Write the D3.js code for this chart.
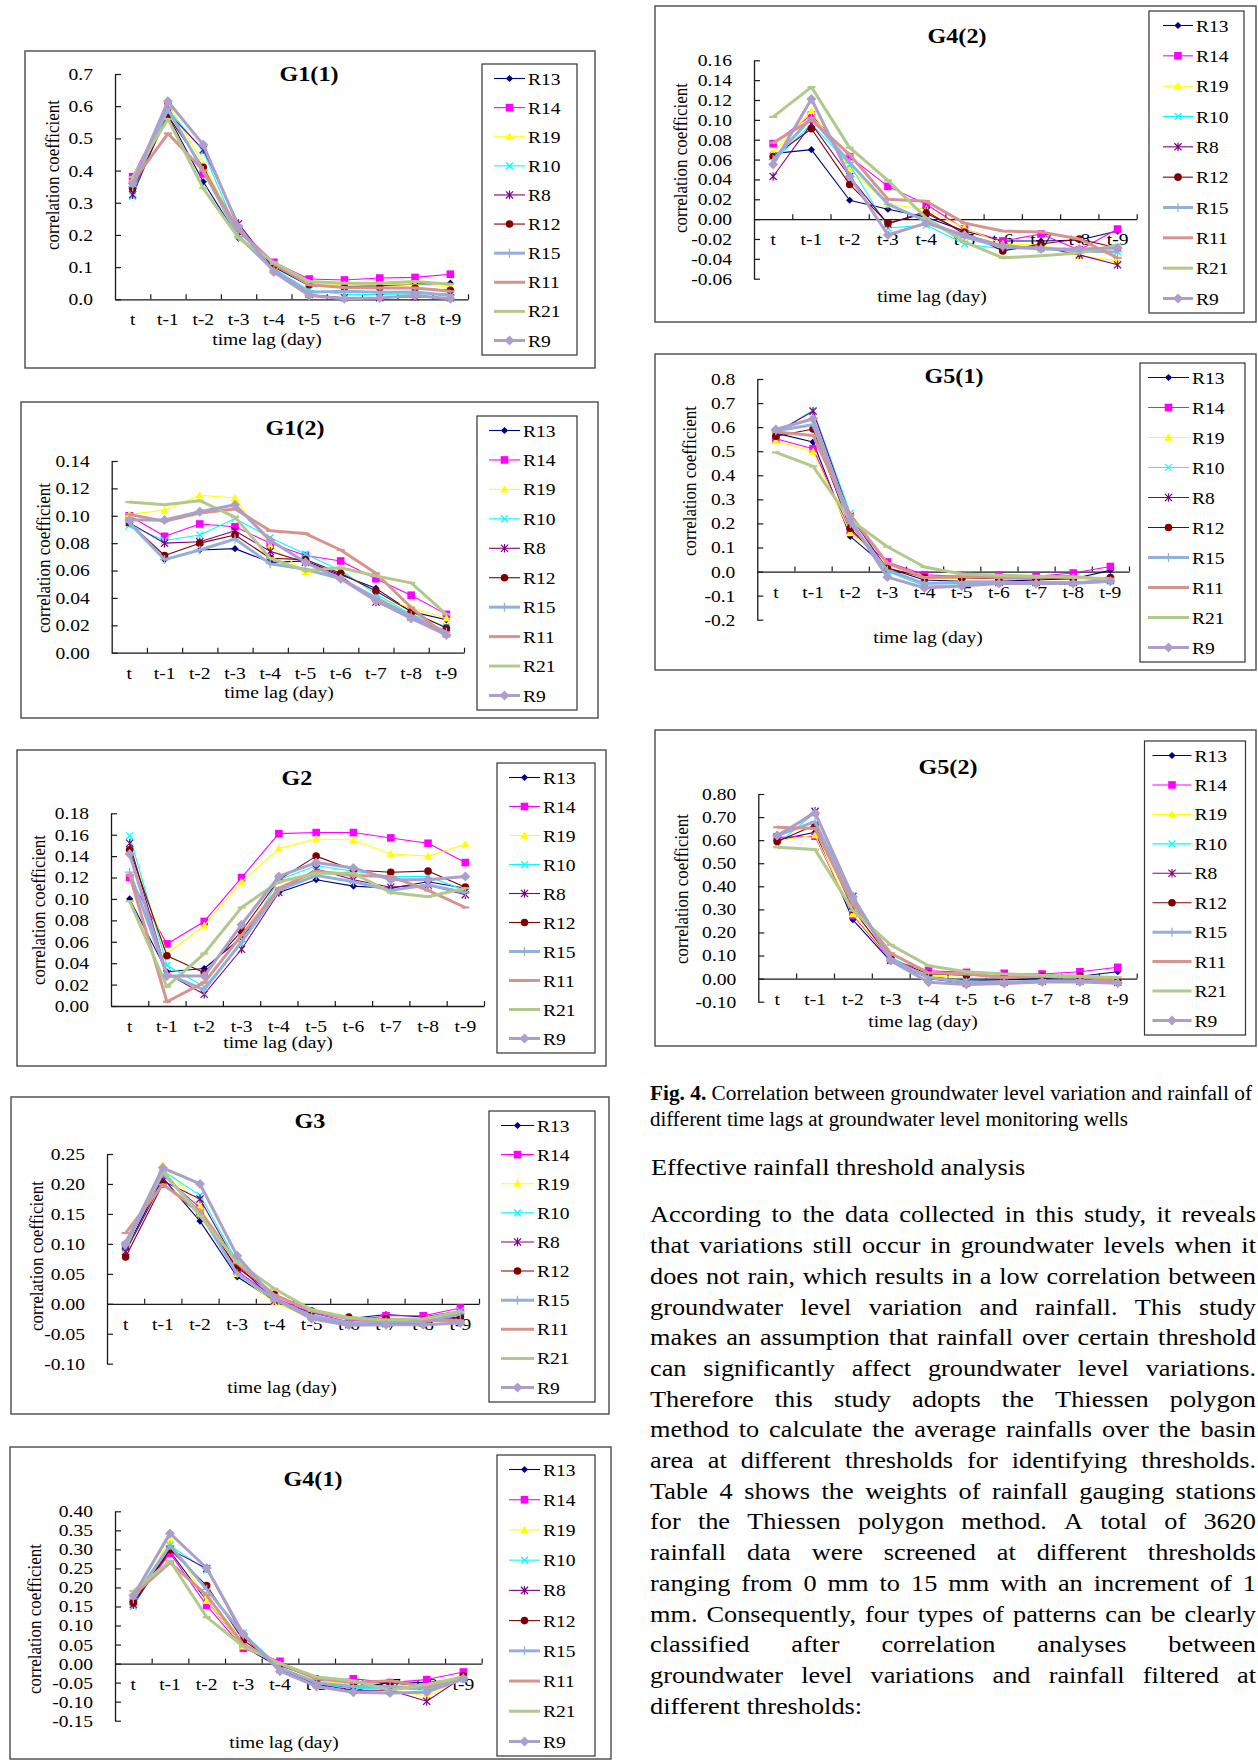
<!DOCTYPE html>
<html>
<head>
<meta charset="utf-8">
<script src="https://cdn.jsdelivr.net/npm/d3@7"></script>
<style>
  html, body { margin: 0; padding: 0; background: #fff; }
  svg { display: block; font-family: "Liberation Serif", "Times New Roman", serif; }
</style>
</head>
<body>
<svg id="fig" width="1258" height="1760"></svg>
<script>
// ---- data -------------------------------------------------------------
const categories = ["t", "t-1", "t-2", "t-3", "t-4", "t-5", "t-6", "t-7", "t-8", "t-9"];
const stations = ["R13", "R14", "R19", "R10", "R8", "R12", "R15", "R11", "R21", "R9"];

// correlation coefficient per rain gauge (rows follow `stations`), columns follow `categories`
const G1_1 = [
  [0.340, 0.570, 0.365, 0.190, 0.100, 0.042, 0.040, 0.042, 0.047, 0.050],
  [0.381, 0.600, 0.390, 0.220, 0.115, 0.063, 0.060, 0.066, 0.068, 0.078],
  [0.370, 0.610, 0.420, 0.210, 0.105, 0.050, 0.045, 0.045, 0.045, 0.040],
  [0.320, 0.590, 0.460, 0.200, 0.095, 0.028, 0.015, 0.015, 0.017, 0.018],
  [0.325, 0.580, 0.465, 0.235, 0.095, 0.015, 0.005, 0.005, 0.008, 0.005],
  [0.345, 0.570, 0.410, 0.210, 0.105, 0.045, 0.037, 0.037, 0.035, 0.028],
  [0.350, 0.590, 0.400, 0.195, 0.090, 0.022, 0.025, 0.022, 0.023, 0.012],
  [0.365, 0.515, 0.400, 0.215, 0.110, 0.045, 0.037, 0.035, 0.035, 0.025],
  [0.380, 0.560, 0.345, 0.190, 0.115, 0.055, 0.050, 0.050, 0.055, 0.047],
  [0.360, 0.615, 0.480, 0.225, 0.085, 0.012, 0.002, 0.004, 0.012, 0.002]
];
const G1_2 = [
  [0.094, 0.068, 0.075, 0.076, 0.066, 0.067, 0.057, 0.047, 0.030, 0.024],
  [0.100, 0.085, 0.094, 0.092, 0.080, 0.071, 0.067, 0.054, 0.042, 0.028],
  [0.101, 0.104, 0.115, 0.113, 0.078, 0.059, 0.055, 0.040, 0.033, 0.025],
  [0.093, 0.082, 0.086, 0.098, 0.084, 0.072, 0.060, 0.043, 0.028, 0.019],
  [0.095, 0.080, 0.081, 0.089, 0.074, 0.066, 0.056, 0.037, 0.026, 0.014],
  [0.095, 0.071, 0.080, 0.086, 0.069, 0.068, 0.058, 0.045, 0.030, 0.018],
  [0.095, 0.068, 0.075, 0.083, 0.065, 0.061, 0.054, 0.040, 0.027, 0.015],
  [0.101, 0.096, 0.102, 0.105, 0.089, 0.087, 0.075, 0.058, 0.033, 0.012],
  [0.110, 0.108, 0.111, 0.099, 0.069, 0.060, 0.062, 0.056, 0.051, 0.028],
  [0.097, 0.097, 0.103, 0.108, 0.082, 0.066, 0.054, 0.038, 0.025, 0.013]
];
const G2 = [
  [0.100, 0.032, 0.035, 0.064, 0.106, 0.118, 0.112, 0.110, 0.116, 0.110],
  [0.120, 0.058, 0.079, 0.120, 0.161, 0.162, 0.162, 0.157, 0.152, 0.134],
  [0.148, 0.049, 0.075, 0.116, 0.147, 0.156, 0.155, 0.142, 0.140, 0.151],
  [0.159, 0.038, 0.018, 0.058, 0.118, 0.131, 0.126, 0.121, 0.121, 0.108],
  [0.152, 0.030, 0.011, 0.053, 0.106, 0.128, 0.118, 0.111, 0.113, 0.104],
  [0.146, 0.047, 0.031, 0.070, 0.118, 0.140, 0.127, 0.125, 0.126, 0.111],
  [0.125, 0.030, 0.015, 0.060, 0.108, 0.122, 0.116, 0.108, 0.113, 0.106],
  [0.122, 0.004, 0.022, 0.066, 0.110, 0.126, 0.122, 0.121, 0.108, 0.092],
  [0.098, 0.018, 0.049, 0.092, 0.116, 0.124, 0.124, 0.106, 0.102, 0.110],
  [0.142, 0.028, 0.028, 0.076, 0.121, 0.134, 0.129, 0.118, 0.118, 0.121]
];
const G3 = [
  [0.090, 0.210, 0.138, 0.045, 0.005, -0.015, -0.025, -0.018, -0.022, -0.012],
  [0.095, 0.215, 0.160, 0.055, 0.010, -0.015, -0.030, -0.020, -0.020, -0.007],
  [0.088, 0.232, 0.163, 0.050, 0.002, -0.025, -0.030, -0.030, -0.030, -0.020],
  [0.092, 0.222, 0.181, 0.070, 0.008, -0.022, -0.033, -0.033, -0.032, -0.012],
  [0.087, 0.205, 0.175, 0.065, 0.005, -0.020, -0.035, -0.033, -0.032, -0.023],
  [0.078, 0.200, 0.150, 0.060, 0.016, -0.012, -0.022, -0.025, -0.027, -0.022],
  [0.098, 0.218, 0.152, 0.050, 0.008, -0.020, -0.032, -0.030, -0.030, -0.017],
  [0.118, 0.199, 0.155, 0.068, 0.015, -0.012, -0.025, -0.028, -0.028, -0.028],
  [0.103, 0.222, 0.147, 0.070, 0.025, -0.010, -0.023, -0.027, -0.025, -0.013],
  [0.100, 0.227, 0.200, 0.080, 0.008, -0.025, -0.036, -0.035, -0.035, -0.032]
];
const G4_1 = [
  [0.158, 0.295, 0.165, 0.045, -0.010, -0.050, -0.065, -0.050, -0.050, -0.040],
  [0.160, 0.290, 0.153, 0.040, 0.006, -0.045, -0.040, -0.050, -0.042, -0.022],
  [0.160, 0.325, 0.165, 0.045, -0.002, -0.045, -0.055, -0.070, -0.085, -0.040],
  [0.150, 0.310, 0.245, 0.080, -0.010, -0.055, -0.065, -0.065, -0.070, -0.040],
  [0.155, 0.300, 0.250, 0.070, -0.015, -0.055, -0.070, -0.070, -0.099, -0.035],
  [0.160, 0.300, 0.205, 0.061, -0.005, -0.040, -0.050, -0.050, -0.060, -0.032],
  [0.170, 0.310, 0.195, 0.075, -0.012, -0.050, -0.060, -0.060, -0.065, -0.038],
  [0.180, 0.265, 0.180, 0.050, 0.000, -0.040, -0.050, -0.045, -0.060, -0.035],
  [0.190, 0.270, 0.122, 0.045, 0.000, -0.035, -0.045, -0.070, -0.055, -0.035],
  [0.178, 0.342, 0.251, 0.078, -0.020, -0.060, -0.075, -0.077, -0.075, -0.040]
];
const G4_2 = [
  [0.066, 0.070, 0.019, 0.010, 0.002, -0.012, -0.022, -0.022, -0.021, -0.012],
  [0.076, 0.105, 0.063, 0.033, 0.015, -0.010, -0.022, -0.015, -0.031, -0.010],
  [0.067, 0.109, 0.051, 0.015, 0.010, -0.009, -0.025, -0.026, -0.037, -0.042],
  [0.058, 0.096, 0.055, -0.009, -0.006, -0.025, -0.030, -0.030, -0.032, -0.033],
  [0.043, 0.096, 0.043, -0.005, 0.008, -0.015, -0.027, -0.028, -0.036, -0.046],
  [0.063, 0.091, 0.035, -0.004, 0.006, -0.013, -0.032, -0.025, -0.020, -0.029],
  [0.060, 0.102, 0.057, 0.015, -0.002, -0.018, -0.028, -0.029, -0.032, -0.033],
  [0.077, 0.100, 0.065, 0.020, 0.018, -0.004, -0.012, -0.013, -0.020, -0.039],
  [0.103, 0.133, 0.072, 0.039, 0.001, -0.023, -0.039, -0.037, -0.034, -0.026],
  [0.055, 0.121, 0.043, -0.016, -0.004, -0.016, -0.027, -0.030, -0.030, -0.029]
];
const G5_1 = [
  [0.575, 0.538, 0.146, 0.015, -0.035, -0.040, -0.040, -0.035, -0.030, 0.005],
  [0.552, 0.510, 0.170, 0.040, -0.013, -0.020, -0.015, -0.020, -0.006, 0.021],
  [0.542, 0.498, 0.160, 0.030, -0.030, -0.030, -0.030, -0.030, -0.025, -0.025],
  [0.575, 0.670, 0.243, 0.000, -0.060, -0.055, -0.045, -0.045, -0.045, -0.040],
  [0.578, 0.666, 0.230, 0.010, -0.050, -0.045, -0.045, -0.045, -0.045, -0.035],
  [0.562, 0.592, 0.180, 0.015, -0.025, -0.025, -0.030, -0.030, -0.030, -0.025],
  [0.585, 0.610, 0.200, 0.005, -0.050, -0.045, -0.045, -0.045, -0.045, -0.040],
  [0.580, 0.565, 0.235, 0.035, -0.025, -0.020, -0.025, -0.025, -0.020, -0.035],
  [0.495, 0.437, 0.215, 0.103, 0.019, -0.010, -0.015, -0.020, -0.025, -0.030],
  [0.590, 0.635, 0.215, -0.023, -0.068, -0.060, -0.050, -0.050, -0.050, -0.040]
];
const G5_2 = [
  [0.600, 0.634, 0.255, 0.075, 0.010, -0.010, -0.005, 0.000, 0.010, 0.030],
  [0.612, 0.617, 0.275, 0.080, 0.034, 0.027, 0.023, 0.020, 0.030, 0.049],
  [0.597, 0.622, 0.280, 0.085, 0.010, 0.005, 0.005, 0.005, 0.005, -0.005],
  [0.583, 0.720, 0.360, 0.095, 0.005, -0.010, -0.015, -0.010, -0.010, -0.015],
  [0.615, 0.725, 0.355, 0.080, 0.000, -0.020, -0.015, -0.010, -0.010, -0.015],
  [0.594, 0.666, 0.300, 0.085, 0.020, 0.015, 0.010, 0.010, 0.010, -0.010],
  [0.620, 0.680, 0.340, 0.085, 0.005, -0.015, -0.015, -0.010, -0.010, -0.015],
  [0.656, 0.650, 0.320, 0.110, 0.025, 0.020, 0.005, 0.010, 0.010, -0.015],
  [0.569, 0.559, 0.295, 0.146, 0.056, 0.030, 0.020, 0.015, 0.010, 0.005],
  [0.620, 0.718, 0.355, 0.078, -0.016, -0.025, -0.021, -0.015, -0.015, -0.020]
];

// y-axis tick values of each panel
const ticksG1_1 = [0, 0.1, 0.2, 0.3, 0.4, 0.5, 0.6, 0.7];
const ticksG1_2 = [0, 0.02, 0.04, 0.06, 0.08, 0.10, 0.12, 0.14];
const ticksG2   = [0, 0.02, 0.04, 0.06, 0.08, 0.10, 0.12, 0.14, 0.16, 0.18];
const ticksG3   = [-0.10, -0.05, 0, 0.05, 0.10, 0.15, 0.20, 0.25];
const ticksG4_1 = [-0.15, -0.10, -0.05, 0, 0.05, 0.10, 0.15, 0.20, 0.25, 0.30, 0.35, 0.40];
const ticksG4_2 = [-0.06, -0.04, -0.02, 0, 0.02, 0.04, 0.06, 0.08, 0.10, 0.12, 0.14, 0.16];
const ticksG5_1 = [-0.2, -0.1, 0, 0.1, 0.2, 0.3, 0.4, 0.5, 0.6, 0.7, 0.8];
const ticksG5_2 = [-0.10, 0, 0.10, 0.20, 0.30, 0.40, 0.50, 0.60, 0.70, 0.80];

// ---- series appearance ----------------------------------------------
const styles = [
  { color: "#000080", w: 1.1, marker: "diamond", size: 3.6 },
  { color: "#FF00FF", w: 1.1, marker: "square",  size: 3.8 },
  { color: "#FFFF00", w: 1.1, marker: "triangle", size: 4.2 },
  { color: "#00FFFF", w: 1.1, marker: "x",       size: 3.4 },
  { color: "#800080", w: 1.1, marker: "star",    size: 3.6 },
  { color: "#800000", w: 1.1, marker: "circle",  size: 3.8 },
  { color: "#93B0DA", w: 3.0, marker: "plus",    size: 4.5 },
  { color: "#D6948F", w: 3.0, marker: "dash",    size: 4.0 },
  { color: "#B2C98C", w: 3.0, marker: "dash",    size: 4.0 },
  { color: "#AC9FCA", w: 3.0, marker: "diamond", size: 5.0 }
];

// ---- panel layout -------------------------------------------------------
const panels = [
  { title: "G1(1)", data: G1_1, ticks: ticksG1_1, fmt: ".1f",
    box: { x: 25, y: 51, w: 570, h: 317 }, plot: { x0: 115, x1: 468, y0: 299.3, y1: 74 },
    t: [309, 81], xt: [267, 345], yt: [59, 175], lg: { x: 482, y: 64, w: 95, h: 291, ls: 12, lt: 46 } },
  { title: "G1(2)", data: G1_2, ticks: ticksG1_2, fmt: ".2f",
    box: { x: 21, y: 402, w: 577, h: 316 }, plot: { x0: 111.7, x1: 464, y0: 652.7, y1: 461 },
    t: [295, 435], xt: [279, 698], yt: [50, 558], lg: { x: 477, y: 416, w: 100, h: 294, ls: 12, lt: 46 } },
  { title: "G2", data: G2, ticks: ticksG2, fmt: ".2f",
    box: { x: 17, y: 750, w: 589, h: 316 }, plot: { x0: 111, x1: 484, y0: 1006, y1: 813.3 },
    t: [297, 785], xt: [278, 1048], yt: [45, 910], lg: { x: 497, y: 763, w: 98, h: 290, ls: 12, lt: 46 } },
  { title: "G3", data: G3, ticks: ticksG3, fmt: ".2f",
    box: { x: 11, y: 1097, w: 598, h: 317 }, plot: { x0: 107, x1: 479, y0: 1363.7, y1: 1154 },
    t: [310, 1128], xt: [282, 1393], yt: [43, 1256], lg: { x: 489, y: 1111, w: 106, h: 291, ls: 12, lt: 48 } },
  { title: "G4(1)", data: G4_1, ticks: ticksG4_1, fmt: ".2f",
    box: { x: 10, y: 1447, w: 601, h: 312 }, plot: { x0: 115, x1: 481.7, y0: 1720.7, y1: 1511.3 },
    t: [313, 1486], xt: [284, 1748], yt: [41, 1619], lg: { x: 497, y: 1455, w: 98, h: 301, ls: 12, lt: 46 } },
  { title: "G4(2)", data: G4_2, ticks: ticksG4_2, fmt: ".2f",
    box: { x: 655, y: 6, w: 601, h: 316 }, plot: { x0: 754, x1: 1136.7, y0: 278.7, y1: 60.3 },
    t: [957, 43], xt: [932, 302], yt: [687, 158], lg: { x: 1149, y: 11, w: 95, h: 302, ls: 14, lt: 47 } },
  { title: "G5(1)", data: G5_1, ticks: ticksG5_1, fmt: ".1f",
    box: { x: 655, y: 354, w: 601, h: 316 }, plot: { x0: 757.3, x1: 1129, y0: 619.7, y1: 379 },
    t: [954, 383], xt: [928, 643], yt: [696, 481], lg: { x: 1140, y: 363, w: 105, h: 299, ls: 8, lt: 52 } },
  { title: "G5(2)", data: G5_2, ticks: ticksG5_2, fmt: ".2f",
    box: { x: 655, y: 730, w: 601, h: 316 }, plot: { x0: 758.3, x1: 1136.7, y0: 1001.7, y1: 794 },
    t: [948, 774], xt: [923, 1027], yt: [688, 889], lg: { x: 1144.5, y: 741, w: 101, h: 294, ls: 8, lt: 50 } }
];

// ---- drawing --------------------------------------------------------------
const SX = 1.15;               // horizontal stretch of the chart lettering
const locale = d3.formatLocale({ decimal: ".", thousands: ",", grouping: [3], currency: ["", ""], minus: "-" });
const svg = d3.select("#fig");
svg.append("rect").attr("width", 1258).attr("height", 1760).attr("fill", "#fff");

function marker(g, st, cx, cy, k = 1) {
  const s = st.size * k;
  const c = st.color;
  switch (st.marker) {
    case "diamond":
      g.append("path").attr("d", `M${cx},${cy - s}L${cx + s},${cy}L${cx},${cy + s}L${cx - s},${cy}Z`).attr("fill", c);
      break;
    case "square":
      g.append("rect").attr("x", cx - s).attr("y", cy - s).attr("width", 2 * s).attr("height", 2 * s).attr("fill", c);
      break;
    case "triangle":
      g.append("path").attr("d", `M${cx},${cy - s}L${cx + s},${cy + s * 0.75}L${cx - s},${cy + s * 0.75}Z`).attr("fill", c);
      break;
    case "x":
      g.append("path").attr("d", `M${cx - s},${cy - s}L${cx + s},${cy + s}M${cx - s},${cy + s}L${cx + s},${cy - s}`)
        .attr("stroke", c).attr("stroke-width", 1.3).attr("fill", "none");
      break;
    case "star":
      g.append("path").attr("d", `M${cx - s},${cy - s}L${cx + s},${cy + s}M${cx - s},${cy + s}L${cx + s},${cy - s}M${cx},${cy - s * 1.2}L${cx},${cy + s * 1.2}`)
        .attr("stroke", c).attr("stroke-width", 1.2).attr("fill", "none");
      break;
    case "circle":
      g.append("circle").attr("cx", cx).attr("cy", cy).attr("r", s).attr("fill", c);
      break;
    case "plus":
      g.append("path").attr("d", `M${cx - s},${cy}L${cx + s},${cy}M${cx},${cy - s}L${cx},${cy + s}`)
        .attr("stroke", c).attr("stroke-width", 1.3).attr("fill", "none");
      break;
    case "dash":
      g.append("path").attr("d", `M${cx - s},${cy}L${cx + s},${cy}`)
        .attr("stroke", c).attr("stroke-width", 2.2).attr("fill", "none");
      break;
  }
}

function stretchedText(g, x, y, str, size, weight) {
  return g.append("text")
    .attr("transform", `translate(${x},${y}) scale(${SX},1)`)
    .attr("text-anchor", "middle")
    .attr("font-size", size)
    .attr("font-weight", weight || "normal")
    .attr("fill", "#000")
    .text(str);
}

panels.forEach(p => {
  const g = svg.append("g");

  // chart frame
  g.append("rect")
    .attr("x", p.box.x).attr("y", p.box.y).attr("width", p.box.w).attr("height", p.box.h)
    .attr("fill", "#fff").attr("stroke", "#4a4a4a").attr("stroke-width", 1.4);

  const x = d3.scaleBand().domain(categories).range([p.plot.x0, p.plot.x1]).paddingInner(0).paddingOuter(0);
  const xEdge = d3.scaleLinear().domain([0, categories.length]).range([p.plot.x0, p.plot.x1]);
  const y = d3.scaleLinear().domain([p.ticks[0], p.ticks[p.ticks.length - 1]]).range([p.plot.y0, p.plot.y1]);
  const fmt = locale.format(p.fmt);
  const y0 = y(0);

  // value axis, ticks pointing into the plot
  const ya = g.append("g")
    .attr("transform", `translate(${p.plot.x0},0)`)
    .style("color", "#1a1a1a")
    .call(d3.axisLeft(y).tickValues(p.ticks).tickFormat(fmt).tickSizeInner(-6).tickSizeOuter(0).tickPadding(22 / SX));
  ya.select(".domain").attr("stroke-width", 1.3);
  ya.selectAll(".tick line").attr("stroke-width", 1.2);
  ya.selectAll(".tick text")
    .attr("font-size", 17).attr("font-family", "Liberation Serif").attr("fill", "#000")
    .attr("transform", `scale(${SX},1)`);

  // category axis: tick marks on band edges at the zero line
  const xa = g.append("g")
    .attr("transform", `translate(0,${y0})`)
    .style("color", "#1a1a1a")
    .call(d3.axisBottom(xEdge).tickValues(d3.range(1, categories.length + 1)).tickFormat("").tickSizeInner(-5).tickSizeOuter(0));
  xa.select(".domain").attr("stroke-width", 1.3);
  xa.selectAll(".tick line").attr("stroke-width", 1.2);

  // category labels centred in each band
  const xl = g.append("g")
    .attr("transform", `translate(0,${y0})`)
    .call(d3.axisBottom(x).tickSize(0).tickPadding(14));
  xl.select(".domain").remove();
  xl.selectAll(".tick text")
    .attr("font-size", 17).attr("font-family", "Liberation Serif").attr("fill", "#000")
    .attr("transform", `scale(${SX},1)`);

  // titles
  stretchedText(g, p.t[0], p.t[1], p.title, 21, "bold");
  stretchedText(g, p.xt[0], p.xt[1], "time lag (day)", 17);
  g.append("text")
    .attr("transform", `translate(${p.yt[0]},${p.yt[1]}) rotate(-90) scale(1,${SX})`)
    .attr("text-anchor", "middle").attr("font-size", 17).attr("fill", "#000")
    .text("correlation coefficient");

  // series
  const line = d3.line();
  p.data.forEach((vals, i) => {
    const st = styles[i];
    const pts = vals.map((v, j) => [x(categories[j]) + x.bandwidth() / 2, y(v)]);
    const sg = g.append("g");
    sg.append("path").attr("d", line(pts)).attr("fill", "none")
      .attr("stroke", st.color).attr("stroke-width", st.w).attr("stroke-linejoin", "round");
    pts.forEach(pt => marker(sg, st, pt[0], pt[1]));
  });

  // legend
  const lg = p.lg;
  const lgG = g.append("g");
  lgG.append("rect").attr("x", lg.x).attr("y", lg.y).attr("width", lg.w).attr("height", lg.h)
    .attr("fill", "#fff").attr("stroke", "#333").attr("stroke-width", 1.2);
  const step = (lg.h - 29) / (stations.length - 1);
  stations.forEach((name, i) => {
    const st = styles[i];
    const yy = lg.y + 14.5 + i * step;
    const xa0 = lg.x + lg.ls, xa1 = lg.x + lg.lt - 3;
    lgG.append("line").attr("x1", xa0).attr("x2", xa1).attr("y1", yy).attr("y2", yy)
      .attr("stroke", st.color).attr("stroke-width", st.w);
    if (st.marker !== "dash") marker(lgG, st, (xa0 + xa1) / 2, yy);
    lgG.append("text")
      .attr("transform", `translate(${lg.x + lg.lt},${yy + 6}) scale(${SX},1)`)
      .attr("font-size", 17).attr("fill", "#000").text(name);
  });
});

// ---- caption and body text ---------------------------------------------
const captionBold = "Fig. 4.";
const captionRest = " Correlation between groundwater level variation and rainfall of";
const captionLine2 = "different time lags at groundwater level monitoring wells";
const heading = "Effective rainfall threshold analysis";
const bodyLines = [
  "According to the data collected in this study, it reveals",
  "that variations still occur in groundwater levels when it",
  "does not rain, which results in a low correlation between",
  "groundwater level variation and rainfall. This study",
  "makes an assumption that rainfall over certain threshold",
  "can significantly affect groundwater level variations.",
  "Therefore this study adopts the Thiessen polygon",
  "method to calculate the average rainfalls over the basin",
  "area at different thresholds for identifying thresholds.",
  "Table 4 shows the weights of rainfall gauging stations",
  "for the Thiessen polygon method. A total of 3620",
  "rainfall data were screened at different thresholds",
  "ranging from 0 mm to 15 mm with an increment of 1",
  "mm. Consequently, four types of patterns can be clearly",
  "classified after correlation analyses between",
  "groundwater level variations and rainfall filtered at",
  "different thresholds:"
];

const cap1 = svg.append("text").attr("x", 650).attr("y", 1099.5).attr("font-size", 20).attr("fill", "#000")
  .attr("textLength", 602).attr("lengthAdjust", "spacingAndGlyphs");
cap1.append("tspan").attr("font-weight", "bold").text(captionBold);
cap1.append("tspan").text(captionRest);
svg.append("text").attr("x", 650).attr("y", 1126.3).attr("font-size", 20).attr("fill", "#000")
  .attr("textLength", 478).attr("lengthAdjust", "spacingAndGlyphs").text(captionLine2);

const BS = 1.12;                        // horizontal stretch of the body lettering
const bodyG = svg.append("g").attr("transform", `scale(${BS},1)`);
bodyG.append("text").attr("x", 651 / BS).attr("y", 1175).attr("font-size", 23.5).attr("fill", "#000").text(heading);

const BX = 650 / BS, BW = 606 / BS, FS = 23.5;
bodyLines.forEach((ln, li) => {
  const yb = 1222.5 + li * 30.7;
  const words = ln.split(" ");
  const nodes = words.map(w => bodyG.append("text").attr("y", yb).attr("font-size", FS).attr("fill", "#000").text(w));
  const widths = nodes.map(n => n.node().getComputedTextLength());
  const last = li === bodyLines.length - 1;
  const gap = last || words.length < 2 ? FS * 0.25 : (BW - d3.sum(widths)) / (words.length - 1);
  let cx = BX;
  nodes.forEach((n, k) => { n.attr("x", cx); cx += widths[k] + gap; });
});
</script>
</body>
</html>
